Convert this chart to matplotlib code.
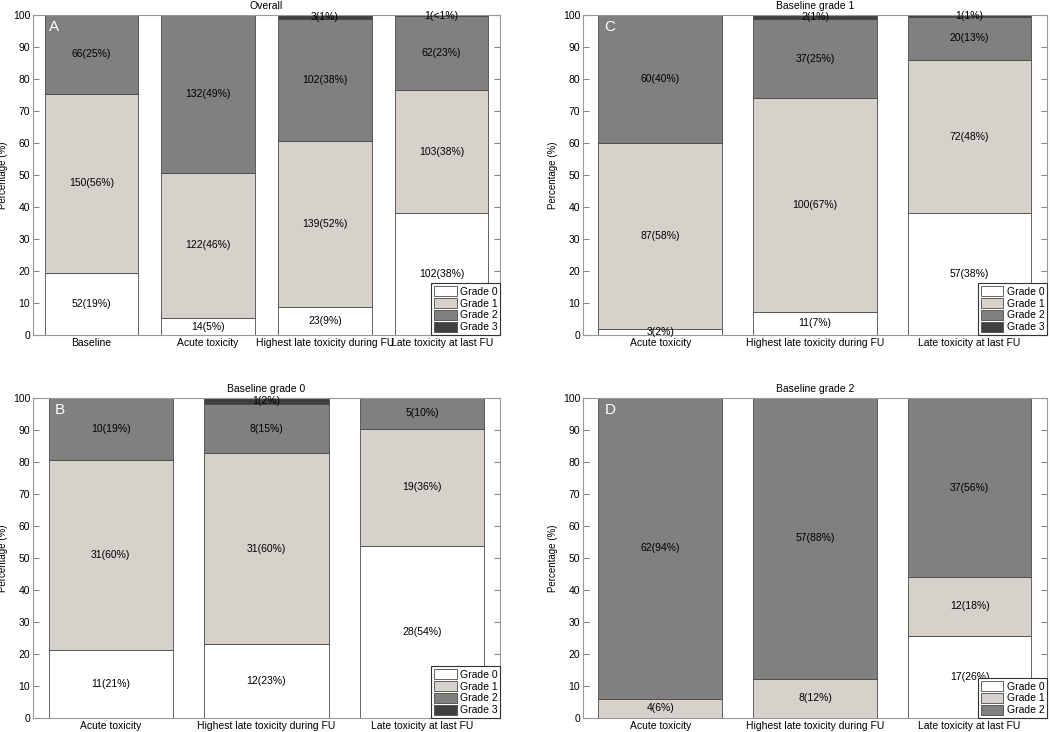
import matplotlib.pyplot as plt
from matplotlib.patches import Patch

plt.rcParams['font.family'] = ['Liberation Sans', 'DejaVu Sans']

grades = ['Grade 0', 'Grade 1', 'Grade 2', 'Grade 3']
grade_colors = ['#ffffff', '#d6d2cb', '#808080', '#404040']

cats_overall = ['Baseline', 'Acute toxicity', 'Highest late toxicity during FU',
                'Late toxicity at last FU']
cats_sub = ['Acute toxicity', 'Highest late toxicity during FU', 'Late toxicity at last FU']

# A - overall (counts per grade, printed percentages)
overall_g0 = [52, 14, 23, 102]
overall_g1 = [150, 122, 139, 103]
overall_g2 = [66, 132, 102, 62]
overall_g3 = [0, 0, 3, 1]
overall_pct = [['19', '5', '9', '38'], ['56', '46', '52', '38'],
               ['25', '49', '38', '23'], ['', '', '1', '<1']]

# B - baseline grade 0
base0_g0 = [11, 12, 28]
base0_g1 = [31, 31, 19]
base0_g2 = [10, 8, 5]
base0_g3 = [0, 1, 0]
base0_pct = [['21', '23', '54'], ['60', '60', '36'], ['19', '15', '10'], ['', '2', '']]

# C - baseline grade 1
base1_g0 = [3, 11, 57]
base1_g1 = [87, 100, 72]
base1_g2 = [60, 37, 20]
base1_g3 = [0, 2, 1]
base1_pct = [['2', '7', '38'], ['58', '67', '48'], ['40', '25', '13'], ['', '1', '1']]

# D - baseline grade 2
base2_g0 = [0, 0, 17]
base2_g1 = [4, 8, 12]
base2_g2 = [62, 57, 37]
base2_pct = [['', '', '26'], ['6', '12', '18'], ['94', '88', '56']]

fig = plt.figure(figsize=(10.5, 7.32), dpi=100)
fs = 7.5


def panel(rect, title, letter, cats, series, pcts):
    ax = fig.add_axes(rect)
    n = len(cats)
    x = list(range(1, n + 1))
    totals = [sum(s[i] for s in series) for i in range(n)]
    bottom = [0.0] * n
    for g, (counts, pct) in enumerate(zip(series, pcts)):
        heights = [c / t * 100 for c, t in zip(counts, totals)]
        ax.bar(x, heights, 0.8, bottom=bottom, color=grade_colors[g],
               edgecolor='#4a4a4a', linewidth=0.6, zorder=2)
        for i in range(n):
            if counts[i] > 0:
                ax.text(x[i], bottom[i] + heights[i] / 2, f'{counts[i]}({pct[i]}%)',
                        ha='center', va='center', fontsize=fs, zorder=3)
        bottom = [b + h for b, h in zip(bottom, heights)]
    ax.set_xlim(0.5, n + 0.5)
    ax.set_ylim(0, 100)
    ax.set_yticks(range(0, 101, 10))
    ax.set_xticks(x)
    ax.set_xticklabels(cats)
    ax.tick_params(axis='y', direction='in', length=4, right=True, color='#888888',
                   labelsize=fs, pad=2)
    ax.tick_params(axis='x', length=0, labelsize=fs, pad=2)
    for sp in ax.spines.values():
        sp.set_color('#999999')
        sp.set_linewidth(0.8)
    ax.set_ylabel('Percentage (%)', fontsize=fs - 0.5)
    ax.yaxis.set_label_coords(-0.053, 0.5)
    ax.set_title(title, fontsize=fs, pad=4)
    ax.text(0.64, 98.5, letter, color='white', fontsize=11, ha='left', va='top', zorder=4)
    handles = [Patch(facecolor=grade_colors[g], edgecolor='#4a4a4a', linewidth=0.6,
                     label=grades[g]) for g in range(len(series))]
    leg = ax.legend(handles=handles, loc='lower right', borderaxespad=0, fontsize=fs,
                    handlelength=2.2, handleheight=1.15, labelspacing=0.12,
                    handletextpad=0.3, borderpad=0.25, fancybox=False,
                    framealpha=1, edgecolor='#333333')
    leg.get_frame().set_linewidth(0.8)
    leg.set_zorder(5)
    return ax


top_b, bot_b, h = 0.5423, 0.0191, 0.4372
panel([0.0314, top_b, 0.4448, h], 'Overall', 'A', cats_overall,
      [overall_g0, overall_g1, overall_g2, overall_g3], overall_pct)
panel([0.5552, top_b, 0.4419, h], 'Baseline grade 1', 'C', cats_sub,
      [base1_g0, base1_g1, base1_g2, base1_g3], base1_pct)
panel([0.0314, bot_b, 0.4448, h], 'Baseline grade 0', 'B', cats_sub,
      [base0_g0, base0_g1, base0_g2, base0_g3], base0_pct)
panel([0.5552, bot_b, 0.4419, h], 'Baseline grade 2', 'D', cats_sub,
      [base2_g0, base2_g1, base2_g2], base2_pct)

fig.savefig('out.png', dpi=100)
